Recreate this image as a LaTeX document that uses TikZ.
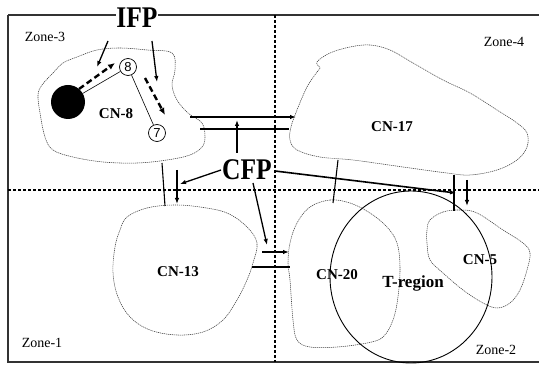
\documentclass[tikz,border=0pt]{standalone}
\usepackage{fontspec}
\setmainfont{Liberation Serif}
\newfontfamily\digitfont{Liberation Sans}
\usetikzlibrary{arrows.meta}
\begin{document}
\begin{tikzpicture}[x=1pt,y=-1pt,
  blob/.style={draw=black!75, line width=0.55pt, dash pattern=on 1.2pt off 0.8pt},
  zoneline/.style={draw=black, line width=1.1pt, dash pattern=on 3pt off 2pt},
  frame/.style={draw=black!80, line width=1.2pt},
  arr/.style={-{Latex[length=6pt,width=4.5pt]}, line width=1.3pt},
  dasharr/.style={-{Latex[length=7pt,width=6pt]}, line width=2.4pt, dash pattern=on 6pt off 3.5pt},
  conn/.style={line width=1.1pt},
  zonelabel/.style={font=\fontsize{14}{14}\selectfont, inner sep=0pt},
  cnlabel/.style={font=\bfseries\fontsize{15}{15}\selectfont, inner sep=0pt},
  biglabel/.style={font=\bfseries\fontsize{30}{30}\selectfont, xscale=0.85, inner sep=1pt},
  numcirc/.style={circle, draw, line width=0.7pt, minimum size=17pt, inner sep=0pt, fill=white, font=\digitfont\fontsize{13}{13}\selectfont}
]
\useasboundingbox (0,0) rectangle (539,366);
% frame and zone separators
\draw[frame] (8,15) -- (539,15);
\draw[frame] (8,15) -- (8,362) -- (539,362);
\draw[zoneline] (8,190) -- (539,190);
\draw[zoneline] (275,15) -- (275,362);
% blobs
\draw[blob] plot[smooth cycle, tension=0.6] coordinates {(42,85) (53,73) (63,63) (77,57) (97,50) (120,48) (147,50) (172,53) (175,70) (172,85) (177,100) (188,113) (202,123) (205,137) (202,147) (190,155) (167,160) (137,163) (103,162) (73,157) (53,150) (45,137) (40,113) (38,95)};
\draw[blob] plot[smooth cycle, tension=0.6] coordinates {(317,62) (330,53) (350,47) (370,45) (390,50) (413,63) (443,80) (470,93) (497,110) (517,123) (527,133) (527,147) (517,160) (497,170) (470,175) (447,173) (403,167) (353,160) (320,157) (297,150) (290,140) (291,127) (297,110) (307,87) (317,72) (320,68)};
\draw[blob] plot[smooth cycle, tension=0.6] coordinates {(127,217) (147,208) (173,205) (200,207) (227,213) (247,227) (257,243) (253,263) (247,280) (237,300) (223,320) (203,332) (177,335) (150,330) (130,317) (118,297) (113,273) (115,247) (120,230)};
\draw[blob] plot[smooth cycle, tension=0.6] coordinates {(310,207) (330,200) (350,203) (370,213) (387,227) (397,243) (400,267) (398,297) (393,320) (383,337) (367,343) (337,347) (310,347) (297,340) (293,320) (290,280) (288,263) (290,243) (297,223)};
\draw[blob] plot[smooth cycle, tension=0.6] coordinates {(430,220) (443,212) (460,210) (477,213) (503,230) (523,243) (530,253) (527,270) (520,290) (510,303) (497,308) (483,303) (463,290) (443,273) (430,260) (427,243) (427,230)};
% T-region
\draw[line width=0.9pt] (411,277) ellipse [x radius=81pt, y radius=86pt];
% labels
\node[zonelabel] (z3) at (45,37) {Zone-3};
\node[zonelabel] (z4) at (504,42) {Zone-4};
\node[zonelabel] (z1) at (42,343) {Zone-1};
\node[zonelabel] (z2) at (496,350) {Zone-2};
\node[cnlabel] (l8) at (116,114) {CN-8};
\node[cnlabel] (l17) at (392,127) {CN-17};
\node[cnlabel] (l13) at (178,272) {CN-13};
\node[cnlabel] (l20) at (337,275) {CN-20};
\node[cnlabel] (l5) at (480,260) {CN-5};
\node[font=\bfseries\fontsize{17}{17}\selectfont, inner sep=0pt] (tr) at (413,283) {T-region};
\node[biglabel, fill=white] (ifp) at (137,18) {IFP};
\node[biglabel] (cfp) at (247,170) {CFP};
% cells
\node[circle, fill=black, minimum size=34pt, inner sep=0pt] (bc) at (68,102) {};
\node[numcirc] (c8) at (128,67) {8};
\node[numcirc] (c7) at (157,133) {7};
\draw[line width=0.6pt] (bc) -- (c8);
\draw[line width=0.6pt] (c8) -- (c7);
% coordinates
\coordinate (da1s) at (79,89);   \coordinate (da1e) at (115,63);
\coordinate (da2s) at (145,78);  \coordinate (da2e) at (165,115);
\coordinate (ia1s) at (108,41);  \coordinate (ia1e) at (97,67);
\coordinate (ia2s) at (152,41);  \coordinate (ia2e) at (157,82);
\coordinate (h1s) at (190,117);  \coordinate (h1e) at (296,117);
\coordinate (h2s) at (200,129);  \coordinate (h2e) at (289,129);
\coordinate (upS) at (237,153);  \coordinate (upE) at (237,120);
\coordinate (v1s) at (162,163);  \coordinate (v1e) at (165,206);
\coordinate (v2s) at (177,170);  \coordinate (v2e) at (177,204);
\coordinate (c1s) at (221,170);  \coordinate (c1e) at (180,184);
\coordinate (c2s) at (253,183);  \coordinate (c2e) at (267,245);
\coordinate (c3s) at (275,171);  \coordinate (c3e) at (456,193);
\coordinate (s1s) at (262,252);  \coordinate (s1e) at (289,252);
\coordinate (s2s) at (252,267);  \coordinate (s2e) at (290,267);
\coordinate (k1s) at (338,160);  \coordinate (k1e) at (333,203);
\coordinate (k2s) at (454,175);  \coordinate (k2e) at (454,211);
\coordinate (k3s) at (467,180);  \coordinate (k3e) at (467,206);
% IFP arrows
\draw[dasharr] (da1s) -- (da1e);
\draw[dasharr] (da2s) -- (da2e);
\draw[arr] (ia1s) -- (ia1e);
\draw[arr] (ia2s) -- (ia2e);
% CN-8 to CN-17
\draw[arr, line width=1.9pt] (h1s) -- (h1e);
\draw[conn] (h2s) -- (h2e);
\draw[arr] (upS) -- (upE);
% CN-8 to CN-13
\draw[conn] (v1s) -- (v1e);
\draw[arr] (v2s) -- (v2e);
% CFP arrows
\draw[arr] (c1s) -- (c1e);
\draw[arr] (c2s) -- (c2e);
\draw[arr, line width=1.6pt] (c3s) -- (c3e);
% CN-13 to CN-20
\draw[arr] (s1s) -- (s1e);
\draw[conn] (s2s) -- (s2e);
% CN-17 to CN-20 and CN-5
\draw[conn] (k1s) -- (k1e);
\draw[conn] (k2s) -- (k2e);
\draw[arr] (k3s) -- (k3e);
\end{tikzpicture}
\end{document}
